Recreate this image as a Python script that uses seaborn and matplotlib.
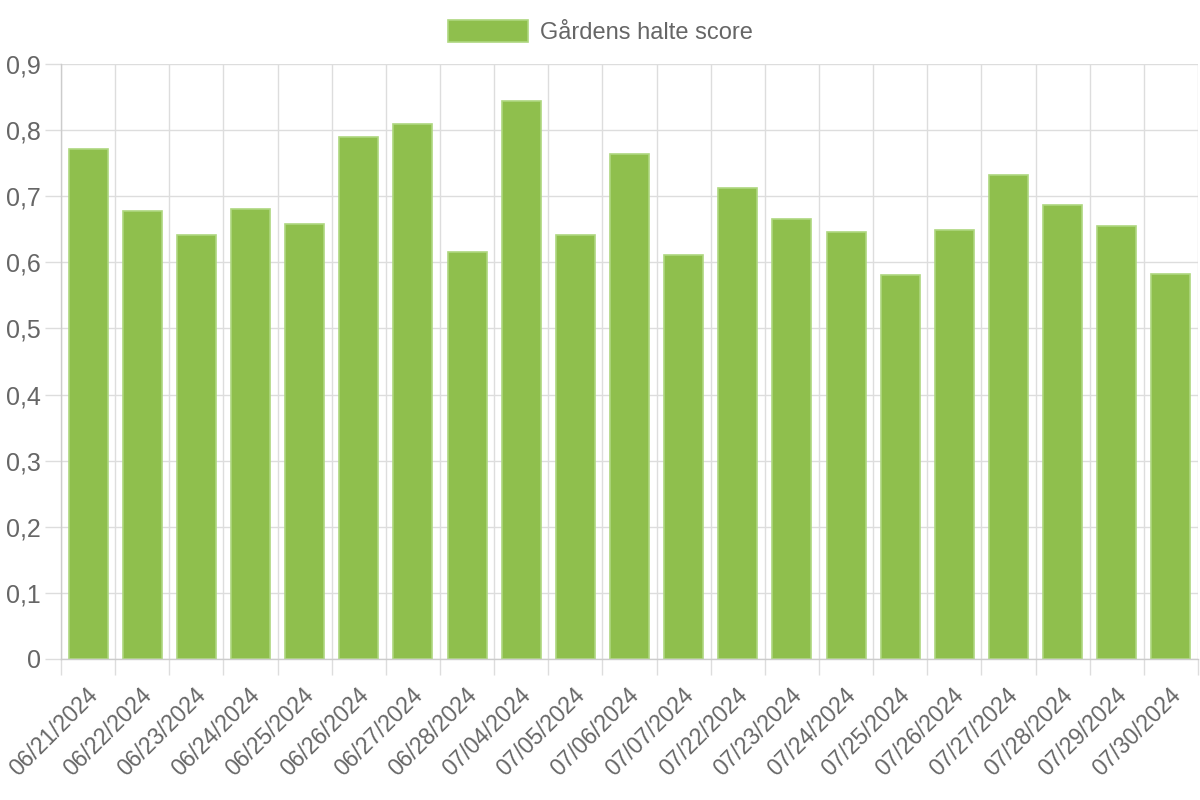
import numpy as np
import pandas as pd
import seaborn as sns
import matplotlib.pyplot as plt
import matplotlib.transforms as mtransforms
from matplotlib.ticker import FuncFormatter, MultipleLocator

# dates and scores
dates = ["06/21/2024", "06/22/2024", "06/23/2024", "06/24/2024", "06/25/2024",
         "06/26/2024", "06/27/2024", "06/28/2024", "07/04/2024", "07/05/2024",
         "07/06/2024", "07/07/2024", "07/22/2024", "07/23/2024", "07/24/2024",
         "07/25/2024", "07/26/2024", "07/27/2024", "07/28/2024", "07/29/2024",
         "07/30/2024"]
scores = [0.771, 0.678, 0.641, 0.681, 0.658, 0.790, 0.809, 0.616, 0.844, 0.641,
          0.764, 0.611, 0.713, 0.666, 0.646, 0.581, 0.649, 0.732, 0.687, 0.655,
          0.582]
label = "Gårdens halte score"

df = pd.DataFrame({"Dato": dates, "Score": scores})

sns.set_style("white")
plt.rcParams["font.family"] = ["Liberation Sans", "DejaVu Sans"]

fill = "#8fbf4d"
edge = "#aed77f"
text_col = "#666666"
grid_col = "#dddddd"

fig = plt.figure(figsize=(12, 8), dpi=100)
ax = fig.add_axes([61/1200, 1 - 659/800, (1198-61)/1200, (659-64)/800])

sns.barplot(data=df, x="Dato", y="Score", color=fill, edgecolor=edge,
            linewidth=1.2, width=0.72, saturation=1, ax=ax, label=label)

ax.set_xlim(-0.5, len(dates) - 0.5)
ax.set_ylim(0, 0.9)
ax.yaxis.set_major_locator(MultipleLocator(0.1))
ax.yaxis.set_major_formatter(FuncFormatter(
    lambda v, p: "0" if abs(v) < 1e-9 else f"{v:.1f}".replace(".", ",")))

# grid lines on category boundaries, like chart.js
ax.set_xticks(np.arange(len(dates) + 1) - 0.5, minor=True)
ax.grid(True, which="minor", axis="x", color=grid_col, linewidth=1)
ax.grid(True, which="major", axis="y", color=grid_col, linewidth=1)
ax.set_axisbelow(True)
ax.tick_params(axis="x", which="major", bottom=False, labelsize=16.5,
               labelcolor=text_col, pad=14)
ax.tick_params(axis="x", which="minor", bottom=True, length=11.5,
               color=grid_col, width=1)
ax.tick_params(axis="y", left=True, length=11.5, color=grid_col, width=1,
               labelsize=18, labelcolor=text_col, pad=3)
shift = mtransforms.ScaledTranslation(-2/100, 0, fig.dpi_scale_trans)
for t in ax.get_xticklabels():
    t.set_rotation(45)
    t.set_ha("right")
    t.set_rotation_mode("anchor")
    t.set_transform(t.get_transform() + shift)

for s in ["top", "right"]:
    ax.spines[s].set_visible(False)
for s in ["left", "bottom"]:
    ax.spines[s].set_color("#cccccc")
    ax.spines[s].set_linewidth(1)

ax.set_xlabel("")
ax.set_ylabel("")

handles, labels = ax.get_legend_handles_labels()
if ax.get_legend() is not None:
    ax.get_legend().remove()
leg = fig.legend(handles, labels, loc="center", bbox_to_anchor=(0.5, 1 - 32/800),
                 frameon=False, fontsize=17, handlelength=3.4, handleheight=1.05,
                 handletextpad=0.5)
for t in leg.get_texts():
    t.set_color(text_col)

fig.savefig("out.png", dpi=100)
